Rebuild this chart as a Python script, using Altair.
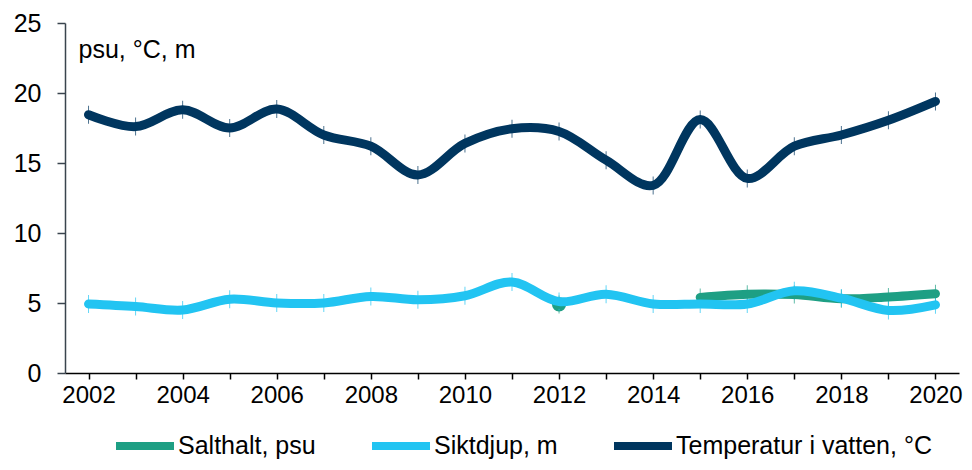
import altair as alt
import pandas as pd

years = list(range(2002, 2021))
temperatur = [18.45, 17.6, 18.8, 17.5, 18.85, 17.0, 16.2, 14.15, 16.4, 17.45, 17.25, 15.2, 13.4, 18.1, 13.9, 16.2, 17.0, 18.05, 19.4]
siktdjup = [4.93, 4.75, 4.5, 5.27, 5.0, 5.0, 5.47, 5.23, 5.52, 6.5, 5.1, 5.63, 4.93, 4.93, 4.93, 5.87, 5.35, 4.47, 4.87]
salthalt = [None] * 10 + [4.9, None, None, 5.4, 5.63, 5.6, 5.3, 5.43, 5.66]

series_names = ["Salthalt, psu", "Siktdjup, m", "Temperatur i vatten, °C"]
series_colors = ["#1E9F84", "#22C4F2", "#00365F"]
y_ticks = [0, 5, 10, 15, 20, 25]

rows = []
for name, vals in zip(series_names, [salthalt, siktdjup, temperatur]):
    seg = 0
    prev_valid = False
    for yr, v in zip(years, vals):
        if v is None:
            prev_valid = False
            continue
        if not prev_valid:
            seg += 1
        prev_valid = True
        rows.append({"year": yr, "value": v, "series": name, "segment": f"{name}-{seg}"})
df = pd.DataFrame(rows)
seg_counts = df.groupby("segment")["year"].transform("count")
df["isolated"] = seg_counts == 1

color = alt.Color(
    "series:N",
    scale=alt.Scale(domain=series_names, range=series_colors),
    legend=alt.Legend(
        title=None,
        orient="none",
        legendX=47,
        legendY=390,
        direction="horizontal",
        symbolType="stroke",
        symbolStrokeWidth=8,
        symbolSize=3364,
        labelFontSize=25,
        labelFont="Liberation Sans",
        labelColor="#000000",
        labelOffset=0,
        columnPadding=40,
        labelLimit=400,
    ),
)

x = alt.X(
    "year:Q",
    scale=alt.Scale(domain=[2001.5, 2020.5], nice=False, zero=False),
    axis=alt.Axis(
        title=None,
        values=years,
        labelExpr="datum.value % 2 == 0 ? format(datum.value, 'd') : ''",
        labelFontSize=24,
        labelFont="Liberation Sans",
        labelColor="#000000",
        tickSize=6,
        tickColor="#000000",
        domainColor="#000000",
        domainWidth=1.5,
        tickWidth=1.5,
        labelPadding=4,
        grid=False,
        labelFlush=False,
        labelOverlap=False,
    ),
)

y = alt.Y(
    "value:Q",
    scale=alt.Scale(domain=[0, 25], nice=False),
    axis=alt.Axis(
        title="psu, °C, m",
        titleAngle=0,
        titleX=13,
        titleY=34,
        titleAlign="left",
        titleBaseline="alphabetic",
        titleFontSize=25,
        titleFontWeight="normal",
        titleFont="Liberation Sans",
        titleColor="#000000",
        values=y_ticks,
        labelFontSize=25,
        labelFont="Liberation Sans",
        labelColor="#000000",
        tickSize=8,
        tickColor="#3A444E",
        domainColor="#3A444E",
        domainWidth=1.5,
        tickWidth=1.5,
        labelPadding=16,
        grid=False,
    ),
)

base = alt.Chart(df)

lines = base.mark_line(
    interpolate="catmull-rom", strokeWidth=9, strokeCap="round", strokeJoin="round"
).encode(
    x=x,
    y=y,
    color=color,
    detail="segment:N",
    order="year:Q",
)

ticks = base.mark_tick(orient="vertical", size=18, thickness=1).encode(
    x=x,
    y=y,
    color=color,
)

points = base.transform_filter("datum.isolated").mark_point(
    filled=True, size=200, opacity=1, shape="circle"
).encode(
    x=x,
    y=y,
    color=color,
)

chart = alt.layer(points, ticks, lines).properties(
    width=894,
    height=350,
    padding={"left": 57, "top": 15, "right": 5, "bottom": 89},
    autosize=alt.AutoSizeParams(type="none"),
).configure(
    font="Liberation Sans",
    view=alt.ViewConfig(stroke=None),
)

chart.save("out.html", embed_options={"renderer": "svg", "actions": False})
